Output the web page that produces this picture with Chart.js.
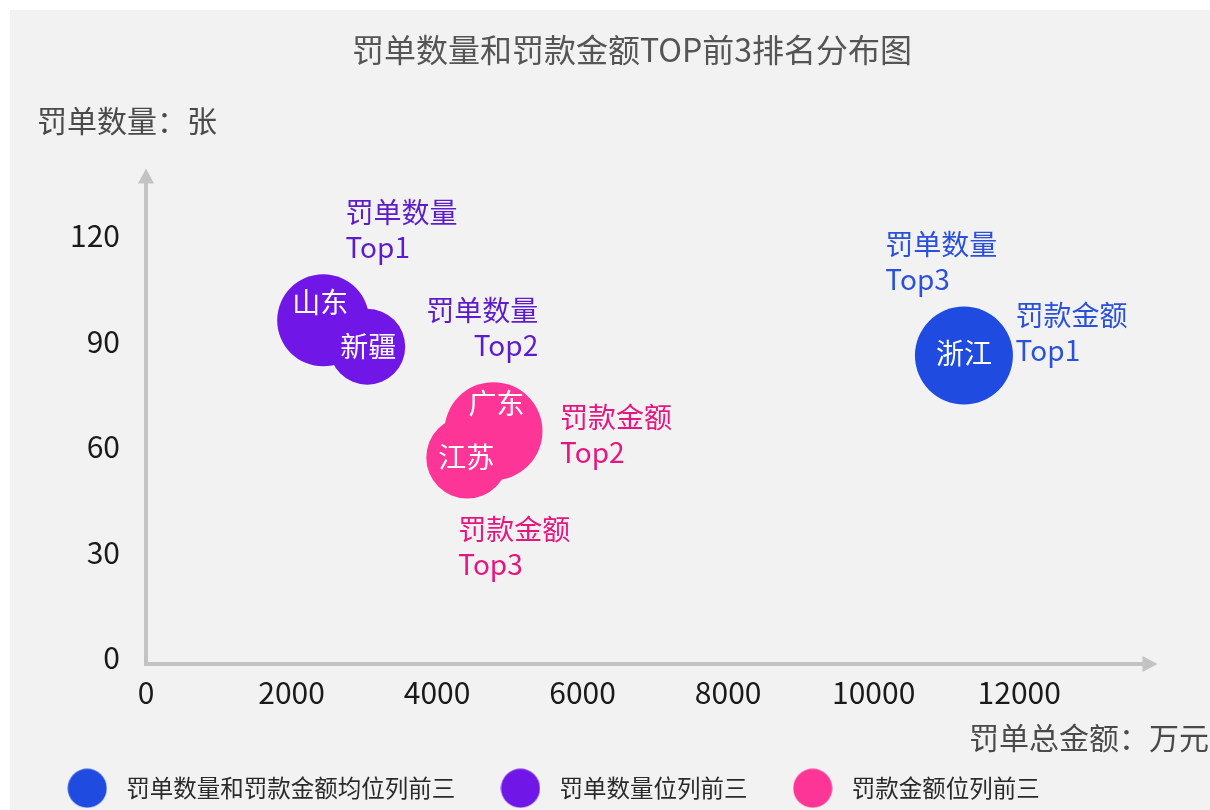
<!DOCTYPE html>
<html lang="zh-CN">
<head>
<meta charset="UTF-8">
<title>罚单数量和罚款金额TOP前3排名分布图</title>
<script src="https://cdn.jsdelivr.net/npm/chart.js"></script>
<style>
    body { margin: 0; background: #fff; }
    .panel {
        position: absolute;
        left: 10px; top: 10px;
        width: 1200px; height: 800px;
        background: #f2f2f2;
    }
</style>
</head>
<body>
<div class="panel"><canvas id="chart"></canvas></div>
<script>
// data
const provinces = ['浙江', '山东', '新疆', '广东', '江苏'];
const fineTotal = [11240, 2435, 3040, 4775, 4415];   // 万元
const ticketCount = [86, 96, 88.5, 64.5, 57];        // 张
const bubbleSize = [49, 46, 38, 49, 41];
const groupOf = [0, 1, 1, 2, 2];
const groupNames = ['罚单数量和罚款金额均位列前三', '罚单数量位列前三', '罚款金额位列前三'];

// where each province name sits, in data units
const nameX = [11240, 2395, 3055, 4815, 4400];
const nameY = [86.5, 101, 88.5, 72.5, 57];

// rank notes, anchored in data units
const noteLines = [['罚单数量', 'Top1'], ['罚单数量', 'Top2'], ['罚款金额', 'Top2'],
                   ['罚款金额', 'Top3'], ['罚单数量', 'Top3'], ['罚款金额', 'Top1']];
const noteX = [2740, 5390, 5690, 4290, 10160, 11950];
const noteY = [126.6, 98.7, 68.3, 36.7, 117.5, 97.5];
const noteGroup = [1, 1, 2, 2, 0, 0];

const xTicks = [0, 2000, 4000, 6000, 8000, 10000, 12000];
const yTicks = [0, 30, 60, 90, 120];

// styles
const FONT = "'Noto Sans CJK SC', 'Noto Sans', sans-serif";
const bubbleColors = ['#1f4be0', '#7016e6', '#fd3596'];
const noteColors = ['#2a50dc', '#5d1ccc', '#e7157f'];
const noteAlign = ['left', 'right', 'left', 'left', 'left', 'left'];

Chart.defaults.font.family = FONT;

function dot(color) {
    const c = document.createElement('canvas');
    c.width = c.height = 40;
    const g = c.getContext('2d');
    g.fillStyle = color;
    g.beginPath();
    g.arc(20, 20, 19.5, 0, Math.PI * 2);
    g.fill();
    return c;
}

const datasets = groupNames.map((name, g) => ({
    label: name,
    data: provinces
        .map((p, i) => ({x: fineTotal[i], y: ticketCount[i], r: bubbleSize[i], idx: i}))
        .filter(d => groupOf[d.idx] === g),
    backgroundColor: bubbleColors[g],
    hoverBackgroundColor: bubbleColors[g],
    borderWidth: 0,
    hoverBorderWidth: 0
}));

// axes with arrows, titles, names and notes
const overlay = {
    id: 'overlay',
    beforeDatasetsDraw(chart) {
        const {ctx, chartArea: a, scales: {x, y}} = chart;
        const x0 = x.getPixelForValue(0);
        const yb = y.getPixelForValue(0) + 6;
        const top = a.top + 3;
        const right = a.right;
        ctx.save();
        ctx.strokeStyle = '#c3c3c3';
        ctx.fillStyle = '#c3c3c3';
        ctx.lineWidth = 4;
        ctx.beginPath();
        ctx.moveTo(x0, yb + 2);
        ctx.lineTo(x0, top + 14);
        ctx.moveTo(x0 - 2, yb);
        ctx.lineTo(right - 14, yb);
        ctx.stroke();
        ctx.beginPath();
        ctx.moveTo(x0, top);
        ctx.lineTo(x0 - 8, top + 15);
        ctx.lineTo(x0 + 8, top + 15);
        ctx.closePath();
        ctx.moveTo(right, yb);
        ctx.lineTo(right - 15, yb - 8);
        ctx.lineTo(right - 15, yb + 8);
        ctx.closePath();
        ctx.fill();
        ctx.restore();
    },
    afterDatasetsDraw(chart) {
        const {ctx, scales: {x, y}} = chart;
        ctx.save();
        ctx.textBaseline = 'middle';
        ctx.font = '28px ' + FONT;
        ctx.fillStyle = '#ffffff';
        ctx.textAlign = 'center';
        provinces.forEach((p, i) => {
            ctx.fillText(p, x.getPixelForValue(nameX[i]), y.getPixelForValue(nameY[i]));
        });
        noteLines.forEach((lines, i) => {
            ctx.fillStyle = noteColors[noteGroup[i]];
            ctx.textAlign = noteAlign[i];
            const px = x.getPixelForValue(noteX[i]);
            const py = y.getPixelForValue(noteY[i]);
            lines.forEach((t, k) => ctx.fillText(t, px, py + k * 35));
        });
        ctx.restore();
    },
    afterDraw(chart) {
        const {ctx} = chart;
        ctx.save();
        ctx.textBaseline = 'middle';
        ctx.fillStyle = '#555';
        ctx.font = '32px ' + FONT;
        ctx.textAlign = 'center';
        ctx.fillText('罚单数量和罚款金额TOP前3排名分布图', 622, 40);
        ctx.fillStyle = '#4a4a4a';
        ctx.font = '30px ' + FONT;
        ctx.textAlign = 'left';
        ctx.fillText('罚单数量：张', 27, 111);
        ctx.textAlign = 'right';
        ctx.fillText('罚单总金额：万元', 1199, 728);
        ctx.restore();
    }
};

new Chart(document.getElementById('chart'), {
    type: 'bubble',
    data: {datasets: datasets},
    options: {
        responsive: true,
        maintainAspectRatio: false,
        animation: false,
        events: [],
        layout: {padding: {left: 12, right: 52.5, top: 155.6, bottom: 0}},
        scales: {
            x: {
                type: 'linear',
                min: 0,
                max: 13900,
                grid: {display: false, drawTicks: false},
                border: {display: false},
                afterBuildTicks: s => { s.ticks = xTicks.map(v => ({value: v})); },
                ticks: {
                    autoSkip: false,
                    padding: 17,
                    color: '#1a1a1a',
                    font: {size: 30},
                    maxRotation: 0,
                    callback: v => String(v)
                },
                afterFit: s => { s.height = 80.5; }
            },
            y: {
                type: 'linear',
                min: 0,
                max: 140,
                grid: {display: false, drawTicks: false},
                border: {display: false},
                afterBuildTicks: s => { s.ticks = yTicks.map(v => ({value: v})); },
                ticks: {
                    autoSkip: false,
                    padding: 26,
                    color: '#1a1a1a',
                    font: {size: 30},
                    callback: v => String(v)
                },
                afterFit: s => { s.width = 124; }
            }
        },
        plugins: {
            tooltip: {enabled: false},
            legend: {
                position: 'bottom',
                align: 'start',
                labels: {
                    usePointStyle: true,
                    pointStyleWidth: 54.5,
                    padding: 38,
                    color: '#2a2a2a',
                    font: {size: 23.5},
                    generateLabels(chart) {
                        const items = Chart.defaults.plugins.legend.labels.generateLabels(chart);
                        items.forEach((it, i) => { it.pointStyle = dot(bubbleColors[i]); });
                        return items;
                    }
                }
            }
        }
    },
    plugins: [overlay]
});
</script>
</body>
</html>
